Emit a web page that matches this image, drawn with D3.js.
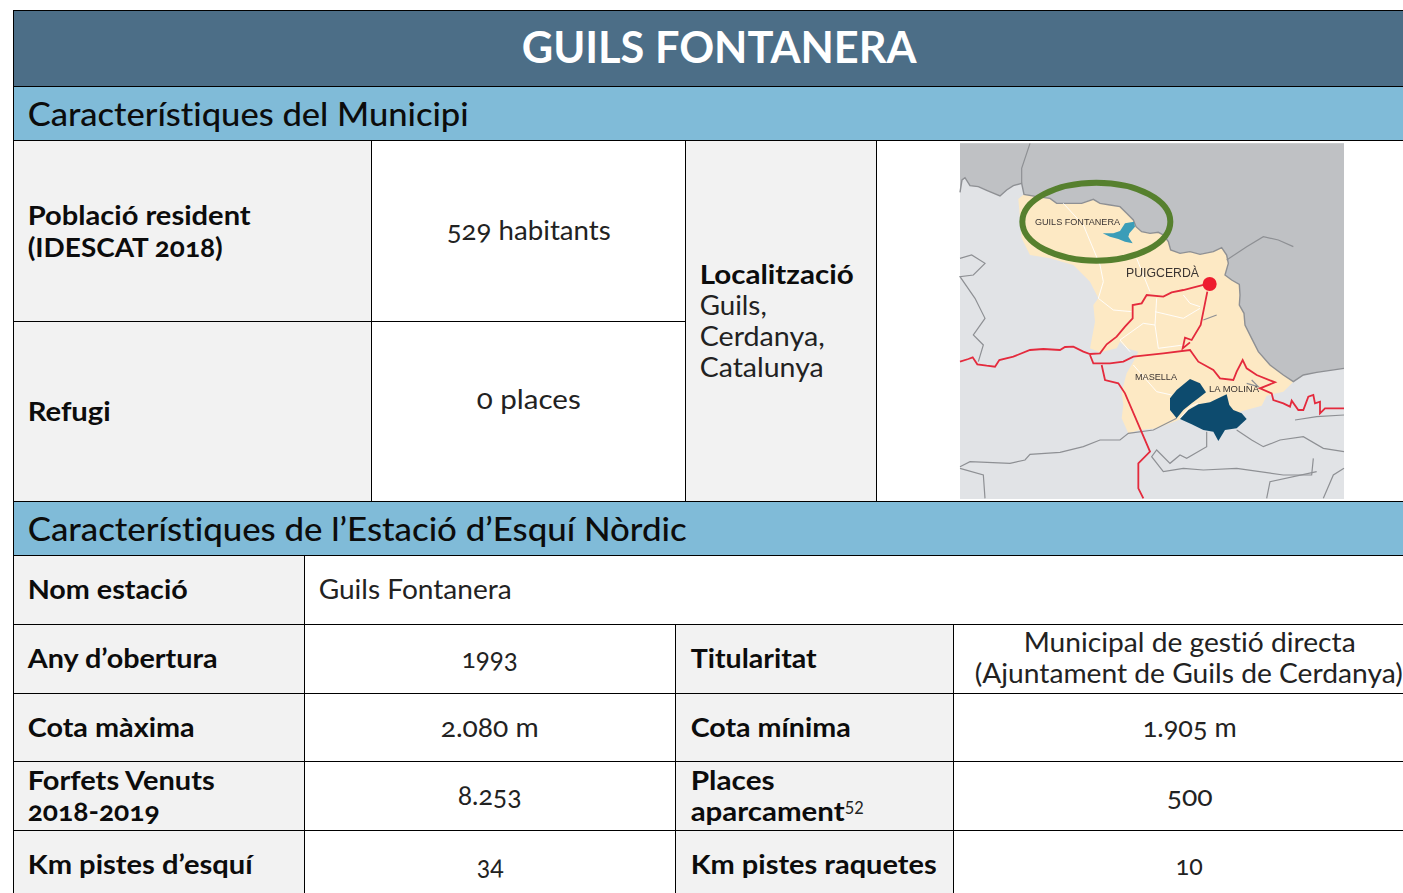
<!DOCTYPE html>
<html><head><meta charset="utf-8">
<script src="https://cdn.jsdelivr.net/npm/d3@7/dist/d3.min.js"></script>
<style>html,body{margin:0;padding:0;background:#fff;overflow:hidden}svg{display:block}
text{font-family:Lato,"Open Sans",sans-serif;font-variant-ligatures:none;font-feature-settings:"onum" 1,"liga" 0,"clig" 0,"dlig" 0}</style></head><body>
<svg id="c" width="1403" height="893"></svg>
<script>
// ---------- content ----------
const title = "GUILS FONTANERA";
const sections = ["Característiques del Municipi", "Característiques de l’Estació d’Esquí Nòrdic"];
const muniLabels = [["Població resident", "(IDESCAT 2018)"], ["Refugi"]];
const muniValues = ["529 habitants", "0 places"];
const locLabel = "Localització";
const locLines = ["Guils,", "Cerdanya,", "Catalunya"];
const stationName = ["Nom estació", "Guils Fontanera"];
const leftLabels = [["Any d’obertura"], ["Cota màxima"], ["Forfets Venuts", "2018-2019"], ["Km pistes d’esquí"]];
const leftValues = ["1993", "2.080 m", "8.253", "34"];
const rightLabels = [["Titularitat"], ["Cota mínima"], ["Places", "aparcament"], ["Km pistes raquetes"]];
const rightValues = [["Municipal de gestió directa", "(Ajuntament de Guils de Cerdanya)"], ["1.905 m"], ["500"], ["10"]];
const footnote = "52";
const mapLabels = ["GUILS FONTANERA", "PUIGCERDÀ", "MASELLA", "LA MOLINA"];

// ---------- map geometry, in source-image units ----------
const northBorder = [[222,178],[260,185],[300,190],[320,205],[360,205],[395,205],[430,193],[450,205],[480,210],[510,215],[530,235],[550,255],[558,275],[575,290],[600,295],[625,292],[640,300],[655,320],[662,345],[690,355],[720,350],[750,358],[790,350],[815,338],[830,360],[835,385],[825,420],[845,435],[868,448],[870,480],[868,510],[882,535],[885,570],[905,610],[925,650],[960,690],[1000,720],[1030,740]];
const franceEdge = [[30,172],[36,135],[45,128],[60,152],[85,155],[110,166],[150,183],[170,165],[190,152],[215,145],...northBorder,[1060,720],[1100,712],[1182,700]];
const cerdanya = [[205,192],...northBorder,[1000,770],[950,782],[935,812],[870,830],[880,860],[700,850],[660,865],[620,880],[570,885],[535,895],[515,850],[520,810],[515,770],[530,715],[550,680],[565,650],[530,640],[510,620],[500,640],[450,652],[420,640],[435,560],[430,510],[445,490],[420,440],[370,390],[300,370],[240,360],[215,310]];
const slopesA = [[660,790],[680,765],[720,732],[750,745],[768,772],[745,790],[725,805],[700,825],[680,850],[660,825]];
const slopesB = [[690,852],[715,825],[745,808],[780,802],[800,792],[830,778],[838,810],[850,825],[875,835],[890,852],[860,880],[825,885],[805,918],[790,890],[760,885],[725,868]];
const guilsArea = [[458,295],[490,295],[510,288],[525,265],[552,260],[555,275],[538,295],[535,305],[548,325],[525,320],[505,312],[480,305]];
const redLines = [
 [[30,680],[55,672],[68,667],[82,688],[110,692],[135,695],[148,675],[190,665],[240,645],[280,642],[330,645],[345,636],[370,635],[400,650],[420,657],[450,655],[470,628],[500,605],[525,575],[548,550],[548,510],[575,505],[590,480],[640,485],[665,472],[700,465],[740,455],[778,445]],
 [[772,470],[760,530],[752,570],[725,615],[705,608],[698,640],[720,622]],
 [[420,660],[430,685],[480,685],[520,680],[550,665],[640,655],[720,645],[745,680],[790,705],[810,730],[850,735],[860,710],[878,675],[890,700],[920,720],[975,742],[930,760],[965,775],[970,795],[1000,805],[1020,815],[1025,797],[1045,825],[1060,825],[1075,785],[1090,780],[1095,805],[1110,800],[1110,835],[1125,820],[1182,820]],
 [[455,690],[465,735],[505,745],[525,775],[600,950],[565,985],[565,1060],[580,1090]]
];
const greyLines = [
 [[30,995],[60,980],[180,985],[225,975],[240,958],[330,952],[400,935],[450,915],[510,915],[535,895],[610,885],[680,850]],
 [[860,885],[905,915],[940,935],[990,915],[1060,905],[1120,940],[1182,950]],
 [[770,890],[770,935],[710,970],[690,960],[660,985],[620,945],[605,965],[640,1010],[700,1000],[760,1005],[860,1000],[1000,1020],[1085,1020],[1090,970]],
 [[830,375],[890,335],[940,305],[985,315],[1030,335]],
 [[30,370],[65,360],[105,385],[70,420],[30,425],[75,490],[105,550],[70,600],[100,630],[85,680]],
 [[30,1000],[100,1020],[105,1090]],
 [[950,1090],[960,1040],[1100,1010]],
 [[1120,1090],[1150,1020],[1182,1000]],
 [[1035,855],[1100,845],[1182,840]],
 [[240,25],[215,100],[215,145]],
 [[905,735],[925,755],[890,745]],
 [[760,555],[800,540]]
];
const whiteLines = [
 [[340,205],[400,270],[450,390],[460,440],[445,490],[490,525],[545,530]],
 [[620,490],[615,570],[580,565],[510,615],[540,650]],
 [[615,570],[625,640],[700,630]],
 [[700,480],[720,505],[750,515]],
 [[615,530],[700,550],[750,520]],
 [[560,370],[600,470]],
 [[550,690],[620,770],[665,780]],
 [[690,850],[720,815],[745,805]]
];

// ---------- drawing ----------
const svg = d3.select("#c");
const rect = (x,y,w,h,f)=>svg.append("rect").attr("x",x).attr("y",y).attr("width",w).attr("height",h).attr("fill",f);
const hl = (x1,x2,y)=>svg.append("line").attr("x1",x1).attr("x2",x2).attr("y1",y+.5).attr("y2",y+.5).attr("stroke","#000");
const vl = (x,y1,y2)=>svg.append("line").attr("x1",x+.5).attr("x2",x+.5).attr("y1",y1).attr("y2",y2).attr("stroke","#000");
const txt = (s,x,y,w,o={})=>svg.append("text").text(s).attr("x",x-.3).attr("y",y)
  .attr("font-size",o.size||26).attr("font-weight",o.weight||400).attr("fill",o.fill||"#222")
  .attr("textLength",w).attr("lengthAdjust","spacingAndGlyphs");
const bold = {weight:700,fill:"#0c0c0c"};
const W = 1403, L = 13;

// fills
rect(L,10,W-L,76,"#4c6e87");
rect(L,86,W-L,54,"#80bbd8");
rect(L,501,W-L,54,"#80bbd8");
rect(L,140,358,361,"#f2f2f2");
rect(685,140,191,361,"#f2f2f2");
rect(L,555,291,338,"#f2f2f2");
rect(675,624,278,269,"#f2f2f2");

// map
const mx = d3.scaleLinear().domain([0,1200]).range([950,1350]);
const my = d3.scaleLinear().domain([0,1110]).range([135,505]);
const line = d3.line().x(d=>mx(d[0])).y(d=>my(d[1]));
const g = svg.append("g");
svg.append("defs").append("filter").attr("id","soft").append("feGaussianBlur").attr("stdDeviation",0.35);
g.attr("filter","url(#soft)");
g.append("rect").attr("x",mx(30)).attr("y",my(25)).attr("width",mx(1182)-mx(30)).attr("height",my(1092)-my(25)).attr("fill","#e1e3e6");
g.append("path").attr("d",line([[30,25],...franceEdge,[1182,25]])+"Z").attr("fill","#bfc1c4");
g.append("path").attr("d",line(cerdanya)+"Z").attr("fill","#fde9c4");
g.append("path").attr("d",line(franceEdge)).attr("fill","none").attr("stroke","#8e9094").attr("stroke-width",1.4);
g.selectAll(".w").data(whiteLines).join("path").attr("d",line).attr("fill","none").attr("stroke","#fff").attr("stroke-width",.9);
g.selectAll(".g").data(greyLines).join("path").attr("d",line).attr("fill","none").attr("stroke","#8e9094").attr("stroke-width",1.2);
[slopesA,slopesB].forEach(p=>g.append("path").attr("d",line(p)+"Z").attr("fill","#0f4c6e"));
g.append("path").attr("d",line(guilsArea)+"Z").attr("fill","#3a9db8");
g.selectAll(".r").data(redLines).join("path").attr("d",line).attr("fill","none").attr("stroke","#e42a3c").attr("stroke-width",1.8);
g.append("circle").attr("cx",mx(779)).attr("cy",my(447)).attr("r",7).attr("fill","#ee1c2e");
g.append("ellipse").attr("cx",mx(439)).attr("cy",my(260)).attr("rx",mx(222)-mx(0)).attr("ry",my(117)-my(0)).attr("fill","none").attr("stroke","#56802f").attr("stroke-width",6);
const ml = (s,x,y,w,size)=>g.append("text").text(s).attr("x",x).attr("y",y).attr("textLength",w).attr("lengthAdjust","spacingAndGlyphs").attr("font-size",size).attr("fill","#3a3432").style("font-family","Liberation Sans");
ml(mapLabels[0],1035,225,85,9.5); ml(mapLabels[1],1126,277,73,12); ml(mapLabels[2],1135,380,42,9.5); ml(mapLabels[3],1209,392,50,9.5);

// text
const sec = {size:32,weight:500,fill:"#0c0c0c"};
txt(title,522,63,395,{size:44,weight:700,fill:"#fff"});
txt(sections[0],28,126,441,sec);
txt(sections[1],28,541,659,sec);
txt(muniLabels[0][0],28,225,223,bold); txt(muniLabels[0][1],28,257,195,bold);
txt(muniLabels[1][0],28,421,83,bold);
txt(muniValues[0],447,240,164); txt(muniValues[1],477,409,104);
txt(locLabel,700,284,154,bold);
txt(locLines[0],700,315,67); txt(locLines[1],700,346,125); txt(locLines[2],700,377,124);
txt(stationName[0],28,599,160,bold); txt(stationName[1],319,599,193);

txt(leftLabels[0][0],28,668,190,bold); txt(leftLabels[1][0],28,737,167,bold);
txt(leftLabels[2][0],28,790,187,bold); txt(leftLabels[2][1],28,821,132,bold);
txt(leftLabels[3][0],28,874,225,bold);
txt(leftValues[0],462,668,56); txt(leftValues[1],441,737,98); txt(leftValues[2],458,805,64); txt(leftValues[3],477,875,27);
txt(rightLabels[0][0],691,668,126,bold); txt(rightLabels[1][0],691,737,160,bold);
txt(rightLabels[2][0],691,790,84,bold); txt(rightLabels[2][1],691,821,154,bold);
txt(footnote,845,814,19,{size:17}).style("font-feature-settings",'"lnum" 1');
txt(rightLabels[3][0],691,874,246,bold);
txt(rightValues[0][0],1024,652,332); txt(rightValues[0][1],975,683,428);
txt(rightValues[1][0],1143,737,94); txt(rightValues[2][0],1167,806,46); txt(rightValues[3][0],1176,875,27);

// rules
[10,86,140,501,555,624,693,761,830].forEach(y=>hl(L,W,y));
hl(L,685,321);
vl(L,10,893);
[371,685,876].forEach(x=>vl(x,140,501));
vl(304,555,893);
[675,953].forEach(x=>vl(x,624,893));
</script></body></html>
